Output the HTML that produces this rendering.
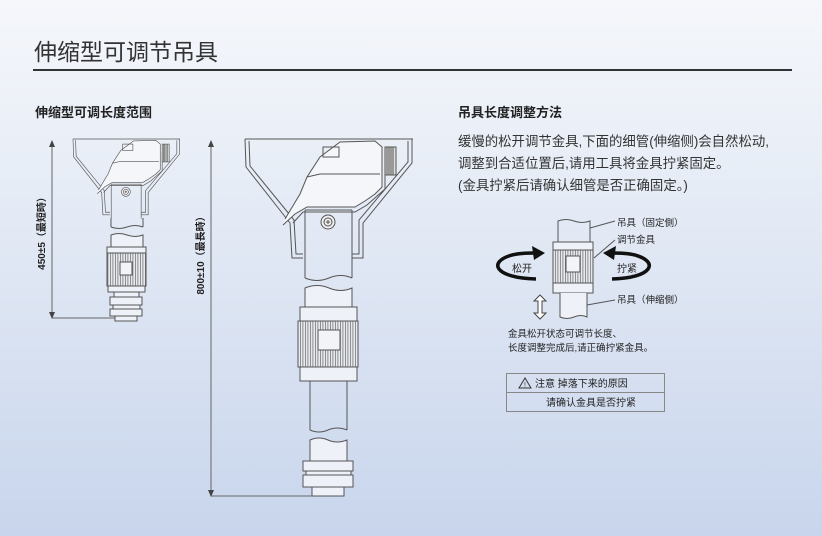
<!DOCTYPE html>
<html><head><meta charset="utf-8"><style>
html,body{margin:0;padding:0}
body{width:822px;height:536px;overflow:hidden;background:linear-gradient(#f5f7fb 0%,#e6ecf6 35%,#c8d5ec 100%);font-family:"Liberation Sans","Noto Sans CJK SC",sans-serif;position:relative;color:#222}
.t{position:absolute;white-space:nowrap}
</style></head><body>
<div class="t" style="left:34px;top:33px;font-size:23px;color:#333;">伸缩型可调节吊具</div>
<div style="position:absolute;left:33px;top:69px;width:759px;height:2px;background:#333"></div>
<div class="t" style="left:35px;top:102px;font-size:13px;font-weight:bold;">伸缩型可调长度范围</div>
<div class="t" style="left:458px;top:102px;font-size:13px;font-weight:bold;">吊具长度调整方法</div>
<div class="t" style="left:458px;top:131px;font-size:13.4px;line-height:22px;color:#333">缓慢的松开调节金具,下面的细管(伸缩侧)会自然松动,<br>调整到合适位置后,请用工具将金具拧紧固定。<br>(金具拧紧后请确认细管是否正确固定。)</div>

<svg width="822" height="536" style="position:absolute;left:0;top:0" xmlns="http://www.w3.org/2000/svg">
<defs>
<g id="head" fill="none" stroke="#555" stroke-width="1">
<path d="M0,0 L168,0"/>
<path d="M0,0 L1,28 L45,84 L47,119 L58,119"/>
<path d="M4,2 L5,27 L49,81 L51,115 L58,115"/>
<path d="M167,0 L167,24 L118,84 L118,119 L107,119"/>
<path d="M163,2 L163,23 L114,81 L114,115 L107,115"/>
<path d="M60,71 L60,125 M107,71 L107,125"/>
<path d="M60,71 L107,71"/>
<path d="M38,86 L50,75 L62,68 L110,68 L120,62 L130,55 L137,48 L137,8 L130,2 L95,3 L75,18 L62,38 L55,55 L40,80" fill="#f4f6fa"/>
<path d="M48,84 L58,73 L110,73 L122,66 L140,50 L140,20"/>
<path d="M62,38 L75,35 L135,35"/>
<rect x="78" y="8" width="16" height="10"/>
<rect x="140" y="8" width="11" height="28" fill="#ddd"/>
<path d="M142,8 V36 M144,8 V36 M146,8 V36 M148,8 V36"/>
<circle cx="83" cy="83" r="7" fill="#eee"/><circle cx="83" cy="83" r="4"/>
<path d="M81,83 H85 M83,81 V85"/>
</g>
<pattern id="kn" width="2.5" height="10" patternUnits="userSpaceOnUse"><rect width="2.5" height="10" fill="#e6e9ee"/><rect width="0.8" height="10" fill="#777"/></pattern>
</defs>

<!-- small fixture -->
<g transform="translate(73,139) scale(0.637)"><use href="#head"/></g>
<g fill="none" stroke="#555" stroke-width="1">
<path d="M111,218 V227 M143,218 V227"/>
<path d="M111,227 q8,3 16,0 t16,0"/>
<path d="M111,235 q8,-3 16,0 t16,0 V247 H111 Z" fill="#eef1f7"/>
<rect x="107" y="247" width="39" height="6" fill="#eef1f7"/>
<rect x="107" y="253" width="39" height="33" fill="url(#kn)"/>
<rect x="120" y="262" width="12" height="13" fill="#f2f4f8"/>
<rect x="108" y="286" width="37" height="6" fill="#eef1f7"/>
<rect x="114" y="292" width="25" height="5" fill="#eef1f7"/>
<rect x="110" y="297" width="32" height="8" fill="#eef1f7"/>
<rect x="113" y="305" width="27" height="4" fill="#eef1f7"/>
<rect x="110" y="309" width="32" height="7" fill="#eef1f7"/>
<rect x="115" y="316" width="22" height="5" fill="#eef1f7"/>
<path d="M52,142 V316 M52,318 H115" stroke="#666"/>
</g>
<path d="M52,140 l-3,7 h6 Z M52,319 l-3,-7 h6 Z" fill="#444"/>
<text transform="translate(45,231) rotate(-90)" text-anchor="middle" font-size="10" font-weight="bold" fill="#222" font-family="Liberation Sans,Noto Sans CJK SC,sans-serif">450±5（最短時）</text>

<!-- big fixture -->
<g transform="translate(245,139)"><use href="#head"/></g>
<g fill="none" stroke="#555" stroke-width="1">
<path d="M305,264 V278 M352,264 V278"/>
<path d="M305,278 q12,5 24,0 t23,0"/>
<path d="M305,288 q12,-5 24,0 t23,0 V307 H305 Z" fill="#eef1f7"/>
<rect x="300" y="307" width="57" height="14" fill="#eef1f7"/>
<rect x="298" y="321" width="60" height="46" fill="url(#kn)"/>
<rect x="318" y="330" width="22" height="20" fill="#f2f4f8"/>
<rect x="300" y="367" width="57" height="14" fill="#eef1f7"/>
<path d="M310,381 V430 M347,381 V430"/>
<path d="M310,430 q9,4 18,0 t19,0"/>
<path d="M310,440 q9,-4 18,0 t19,0 V461 H310 Z" fill="#eef1f7"/>
<rect x="303" y="461" width="50" height="10" fill="#eef1f7"/>
<rect x="306" y="471" width="45" height="4" fill="#eef1f7"/>
<rect x="303" y="475" width="50" height="12" fill="#eef1f7"/>
<rect x="312" y="487" width="32" height="9" fill="#eef1f7"/>
<path d="M211,142 V494 M211,496 H312" stroke="#666"/>
</g>
<path d="M211,140 l-3,7 h6 Z M211,497 l-3,-7 h6 Z" fill="#444"/>
<text transform="translate(204,253) rotate(-90)" text-anchor="middle" font-size="10" font-weight="bold" fill="#222" font-family="Liberation Sans,Noto Sans CJK SC,sans-serif">800±10（最長時）</text>

<!-- adjust diagram -->
<g fill="none" stroke="#555" stroke-width="1">
<path d="M558,242 V221 q8,-3 16,0 t16,0 V242"/>
<rect x="553" y="242" width="40" height="8" fill="#eef1f7"/>
<rect x="553" y="250" width="40" height="33" fill="url(#kn)"/>
<rect x="566" y="256" width="14" height="16" fill="#f2f4f8"/>
<rect x="553" y="283" width="40" height="10" fill="#eef1f7"/>
<path d="M560,293 V317 q7,3 14,0 t13,0 V293" fill="#eef1f7"/>
<path d="M590,228 L615,221 M594,258 L615,240 M587,305 L615,300"/>
<path d="M540,295 l-6,6 h4 v12 h-4 l6,6 l6,-6 h-4 v-12 h4 Z" fill="#fff" stroke="#444"/>
</g>
<path d="M536,279 C495,278 487,262 512,255 C520,253 528,253 535,253" fill="none" stroke="#111" stroke-width="3.5"/>
<path d="M545,253 L532,246 L534,260 Z" fill="#111"/>
<path d="M612,279 C652,278 660,262 635,255 C627,253 619,253 612,253" fill="none" stroke="#111" stroke-width="3.5"/>
<path d="M603,253 L616,246 L614,260 Z" fill="#111"/>
<g font-family="Liberation Sans,Noto Sans CJK SC,sans-serif" font-size="9.5" fill="#222">
<text x="617" y="226">吊具（固定側）</text>
<text x="617" y="243">调节金具</text>
<text x="617" y="303">吊具（伸缩側）</text>
<text x="512" y="272" font-size="10">松开</text>
<text x="617" y="272" font-size="10">拧紧</text>
<text x="508" y="337">金具松开状态可调节长度、</text>
<text x="508" y="351">长度调整完成后,请正确拧紧金具。</text>
</g>
<rect x="506.5" y="373.5" width="158" height="38" fill="none" stroke="#888"/>
<line x1="506" y1="392.5" x2="665" y2="392.5" stroke="#888"/>
<path d="M525,378 L519,388 H531 Z" fill="none" stroke="#333"/>
<text x="525" y="387" text-anchor="middle" font-size="7" fill="#333">!</text>
<g font-family="Liberation Sans,Noto Sans CJK SC,sans-serif" font-size="10" fill="#222">
<text x="535" y="387">注意  掉落下来的原因</text>
<text x="546" y="406">请确认金具是否拧紧</text>
</g>
</svg>
</body></html>
